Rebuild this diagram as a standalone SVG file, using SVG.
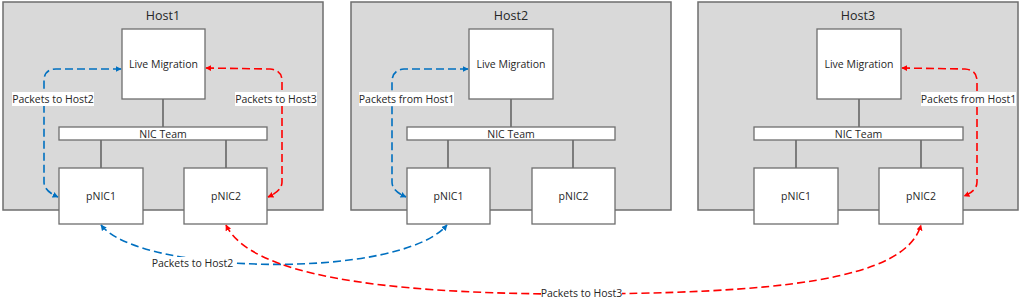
<svg xmlns="http://www.w3.org/2000/svg" width="1024" height="307" viewBox="0 0 1024 307">
<defs>
<style>
.host{fill:#d9d9d9;stroke:#6e6e6e;stroke-width:1.5}
.box{fill:#fff;stroke:#6e6e6e;stroke-width:1.3}
.ln{stroke:#404040;stroke-width:1.2;fill:none}
text{font-family:"Open Sans","Noto Sans","Liberation Sans",sans-serif;fill:#262626;text-anchor:middle}
.t{font-size:12.5px}
.l{font-size:10.5px}
.bl{fill:none;stroke:#0070c0;stroke-width:1.6;stroke-dasharray:8 4}
.rd{fill:none;stroke:#ff0000;stroke-width:1.6;stroke-dasharray:8 4}
.bg{fill:#fff}
</style>
<marker id="ab" viewBox="0 0 10 10" refX="9" refY="5" markerWidth="6" markerHeight="6" orient="auto-start-reverse" markerUnits="userSpaceOnUse"><path d="M0,0 L10,5 L0,10 z" fill="#0070c0"/></marker>
<marker id="ar" viewBox="0 0 10 10" refX="9" refY="5" markerWidth="6" markerHeight="6" orient="auto-start-reverse" markerUnits="userSpaceOnUse"><path d="M0,0 L10,5 L0,10 z" fill="#ff0000"/></marker>
</defs>

<g id="host1">
<rect class="host" x="3" y="2" width="320" height="208"/>
<text class="t" x="163" y="20">Host1</text>
</g>
<g id="host2">
<rect class="host" x="351" y="2" width="320" height="208"/>
<text class="t" x="511" y="20">Host2</text>
</g>
<g id="host3">
<rect class="host" x="698" y="2" width="320" height="208"/>
<text class="t" x="858" y="20">Host3</text>
</g>

<g id="links">
<path class="ln" d="M163,99 V127 M101,140 V168 M226,140 V168"/>
<path class="ln" d="M511,99 V127 M448,140 V168 M573,140 V168"/>
<path class="ln" d="M859,99 V127 M796,140 V168 M921,140 V168"/>
</g>

<g id="h1-lm"><rect class="box" x="122" y="29" width="83" height="70"/><text class="l" x="163.5" y="68">Live Migration</text></g>
<g id="h1-team"><rect class="box" x="59" y="127" width="208" height="13"/><text class="l" x="163" y="137.5">NIC Team</text></g>
<g id="h1-pnic1"><rect class="box" x="59" y="168" width="84" height="56"/><text class="l" x="101" y="200">pNIC1</text></g>
<g id="h1-pnic2"><rect class="box" x="184" y="168" width="83" height="56"/><text class="l" x="226" y="200">pNIC2</text></g>

<g id="h2-lm"><rect class="box" x="469" y="29" width="84" height="70"/><text class="l" x="511" y="68">Live Migration</text></g>
<g id="h2-team"><rect class="box" x="407" y="127" width="208" height="13"/><text class="l" x="511" y="137.5">NIC Team</text></g>
<g id="h2-pnic1"><rect class="box" x="407" y="168" width="83" height="56"/><text class="l" x="448.5" y="200">pNIC1</text></g>
<g id="h2-pnic2"><rect class="box" x="532" y="168" width="83" height="56"/><text class="l" x="573.5" y="200">pNIC2</text></g>

<g id="h3-lm"><rect class="box" x="817" y="29" width="84" height="70"/><text class="l" x="859" y="68">Live Migration</text></g>
<g id="h3-team"><rect class="box" x="754" y="127" width="209" height="13"/><text class="l" x="858.5" y="137.5">NIC Team</text></g>
<g id="h3-pnic1"><rect class="box" x="754" y="168" width="84" height="56"/><text class="l" x="796" y="200">pNIC1</text></g>
<g id="h3-pnic2"><rect class="box" x="879" y="168" width="84" height="56"/><text class="l" x="921" y="200">pNIC2</text></g>

<g id="connectors">
<path class="bl" d="M121,69 L56,69 Q44,69 44,81 L44,182 Q44,191 58,197" marker-start="url(#ab)" marker-end="url(#ab)"/>
<path class="rd" d="M206,68 L270,69 Q282,70 282,81 L282,182 Q282,191 268,197" marker-start="url(#ar)" marker-end="url(#ar)"/>
<path class="bl" d="M468,69 L404,69 Q392,70 392,82 L392,182 Q392,191 406,197" marker-start="url(#ab)" marker-end="url(#ab)"/>
<path class="rd" d="M902,68 L965,69 Q977,70 977,81 L977,182 Q977,191 964,196" marker-start="url(#ar)" marker-end="url(#ar)"/>
<path class="bl" d="M101,225 C140,275 400,280 447,225" marker-start="url(#ab)" marker-end="url(#ab)"/>
<path class="rd" d="M226,225 C250,275 380,293 560,294 C780,294 905,280 921,225" marker-start="url(#ar)" marker-end="url(#ar)"/>
</g>

<g id="labels">
<rect class="bg" x="12" y="92" width="82" height="14"/><text class="l" x="53" y="103">Packets to Host2</text>
<rect class="bg" x="235" y="92" width="82" height="14"/><text class="l" x="276" y="103">Packets to Host3</text>
<rect class="bg" x="359" y="92" width="95" height="14"/><text class="l" x="406.5" y="103">Packets from Host1</text>
<rect class="bg" x="921" y="92" width="95" height="14"/><text class="l" x="968.5" y="103">Packets from Host1</text>
<rect class="bg" x="152" y="257" width="81" height="13"/><text class="l" x="192.5" y="267">Packets to Host2</text>
<rect class="bg" x="541" y="287" width="81" height="13"/><text class="l" x="581.5" y="297">Packets to Host3</text>
</g>
</svg>
